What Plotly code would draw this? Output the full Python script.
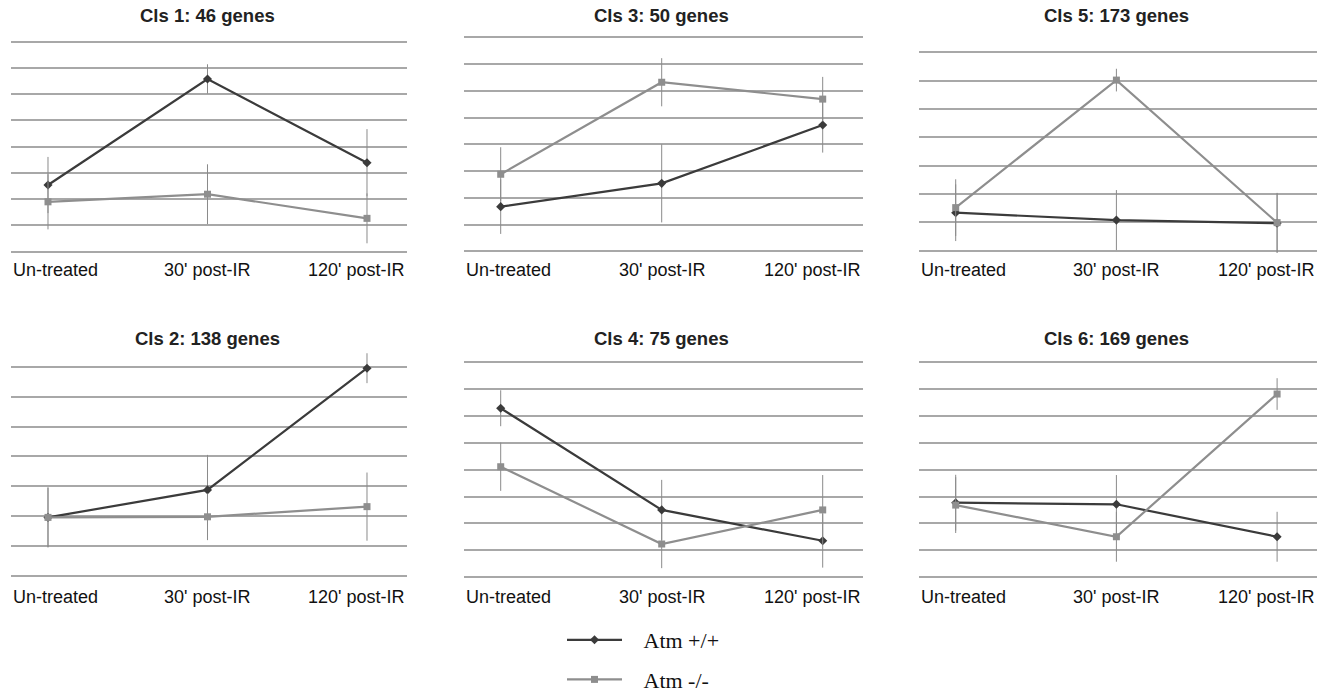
import plotly.graph_objects as go

# ---------------- data ----------------
time_labels = ["Un-treated", "30' post-IR", "120' post-IR"]
panel_titles = ["Cls 1: 46 genes", "Cls 3: 50 genes", "Cls 5: 173 genes",
                "Cls 2: 138 genes", "Cls 4: 75 genes", "Cls 6: 169 genes"]
grid_top = [8, 8, 7, 7, 8, 8]   # highest gridline value in each panel

wt_values = [[2.54, 6.58, 3.39], [1.67, 2.54, 4.72], [1.34, 1.08, 0.97],
             [1.96, 2.88, 6.95], [6.29, 2.50, 1.35], [2.77, 2.71, 1.50]]
wt_errors = [[1.07, 0.56, 1.28], [1.02, 1.46, 1.03], [1.00, 1.06, 1.05],
             [1.00, 1.17, 0.50], [0.67, 1.12, 1.00], [1.04, 1.09, 0.93]]
ko_values = [[1.90, 2.19, 1.27], [2.88, 6.32, 5.69], [1.52, 6.02, 0.99],
             [1.96, 1.98, 2.32], [4.11, 1.23, 2.50], [2.68, 1.50, 6.82]]
ko_errors = [[1.05, 1.14, 0.95], [1.01, 0.90, 0.83], [1.00, 0.40, 1.05],
             [1.00, 0.78, 1.14], [0.90, 0.90, 1.30], [1.04, 0.93, 0.59]]
series_names = ["Atm +/+", "Atm -/-"]

# ---------------- layout geometry (pixels) ----------------
W, H = 1327, 695
col_geom = [(48, 159.5), (500.7, 161.0), (955.7, 160.7)]   # first point px, px per step
row_geom = [(251.7, 26.25), (251.3, 26.75), (250.7, 28.34),
            (576.0, 29.9), (577.0, 26.83), (577.0, 26.83)]  # bottom grid px, px per unit
XLO, XHI = -0.23, 2.25
YLO = -0.25
title_y = [16, 16, 16, 339, 339, 339]
label_y = [270, 270, 270, 597, 597, 597]


def fx(px):
    return px / W


def fy(py):
    return 1 - py / H


DARK = "#3b3b3b"
GRAY = "#8e8e8e"
GRID = "#a8a8a8"
ERR = "#8a8a8a"
SANS = "Liberation Sans, Arial, sans-serif"

fig = go.Figure()
layout = dict(width=W, height=H, autosize=False,
              margin=dict(l=0, r=0, t=0, b=0, autoexpand=False),
              paper_bgcolor="white", plot_bgcolor="white",
              annotations=[])

for i in range(6):
    c = i % 3
    p0, sx = col_geom[c]
    b, sy = row_geom[i]
    yhi = grid_top[i] + 0.55
    n = "" if i == 0 else str(i + 1)
    layout["xaxis" + n] = dict(domain=[fx(p0 + XLO * sx), fx(p0 + XHI * sx)],
                               range=[XLO, XHI], anchor="y" + n,
                               showticklabels=False,
                               showgrid=False, zeroline=False, showline=False,
                               ticks="", fixedrange=True)
    layout["yaxis" + n] = dict(domain=[fy(b - YLO * sy), fy(b - yhi * sy)],
                               range=[YLO, yhi], anchor="x" + n,
                               tickmode="linear", tick0=0, dtick=1,
                               showgrid=True, gridcolor=GRID, gridwidth=1.5,
                               zeroline=False, showline=False, showticklabels=False,
                               ticks="", fixedrange=True)
    layout["annotations"].append(dict(
        text="<b>" + panel_titles[i] + "</b>", xref="paper", yref="paper",
        x=fx(p0 + sx), y=fy(title_y[i]), xanchor="center", yanchor="middle",
        showarrow=False, font=dict(family=SANS, size=18.5, color="#222")))
    # category labels: first left-aligned, middle centred, last right-aligned
    for k, (xv, anc) in enumerate([(XLO, "left"), (1, "center"), (XHI, "right")]):
        layout["annotations"].append(dict(
            text=time_labels[k], xref="x" + n, yref="paper",
            x=xv, y=fy(label_y[i]), xanchor=anc, yanchor="middle",
            showarrow=False, font=dict(family=SANS, size=18, color="#111")))

    for vals, errs, color, sym, name, grp in [
        (wt_values[i], wt_errors[i], DARK, "diamond", series_names[0], "wt"),
        (ko_values[i], ko_errors[i], GRAY, "square", series_names[1], "ko")]:
        fig.add_trace(go.Scatter(
            x=[0, 1, 2], y=vals, mode="lines+markers",
            name="\u00a0\u00a0\u00a0" + name,
            legendgroup=grp, showlegend=(i == 0),
            line=dict(color=color, width=2.2),
            marker=dict(symbol=sym, size=7, color=color),
            error_y=dict(type="data", array=errs, visible=True,
                         color=ERR, thickness=1, width=0),
            xaxis="x" + n, yaxis="y" + n, cliponaxis=False,
            hovertemplate=name + ": %{y}<extra></extra>"))

layout["legend"] = dict(x=fx(562), y=fy(619), xanchor="left", yanchor="top",
                        orientation="v", traceorder="grouped", tracegroupgap=8,
                        itemwidth=55, bgcolor="rgba(0,0,0,0)",
                        font=dict(family="Liberation Serif, Times New Roman, serif",
                                  size=22, color="#111"))
fig.update_layout(**layout)
fig.write_html("out.html", config={"displayModeBar": False},
               post_script="document.body.style.margin='0px';")
